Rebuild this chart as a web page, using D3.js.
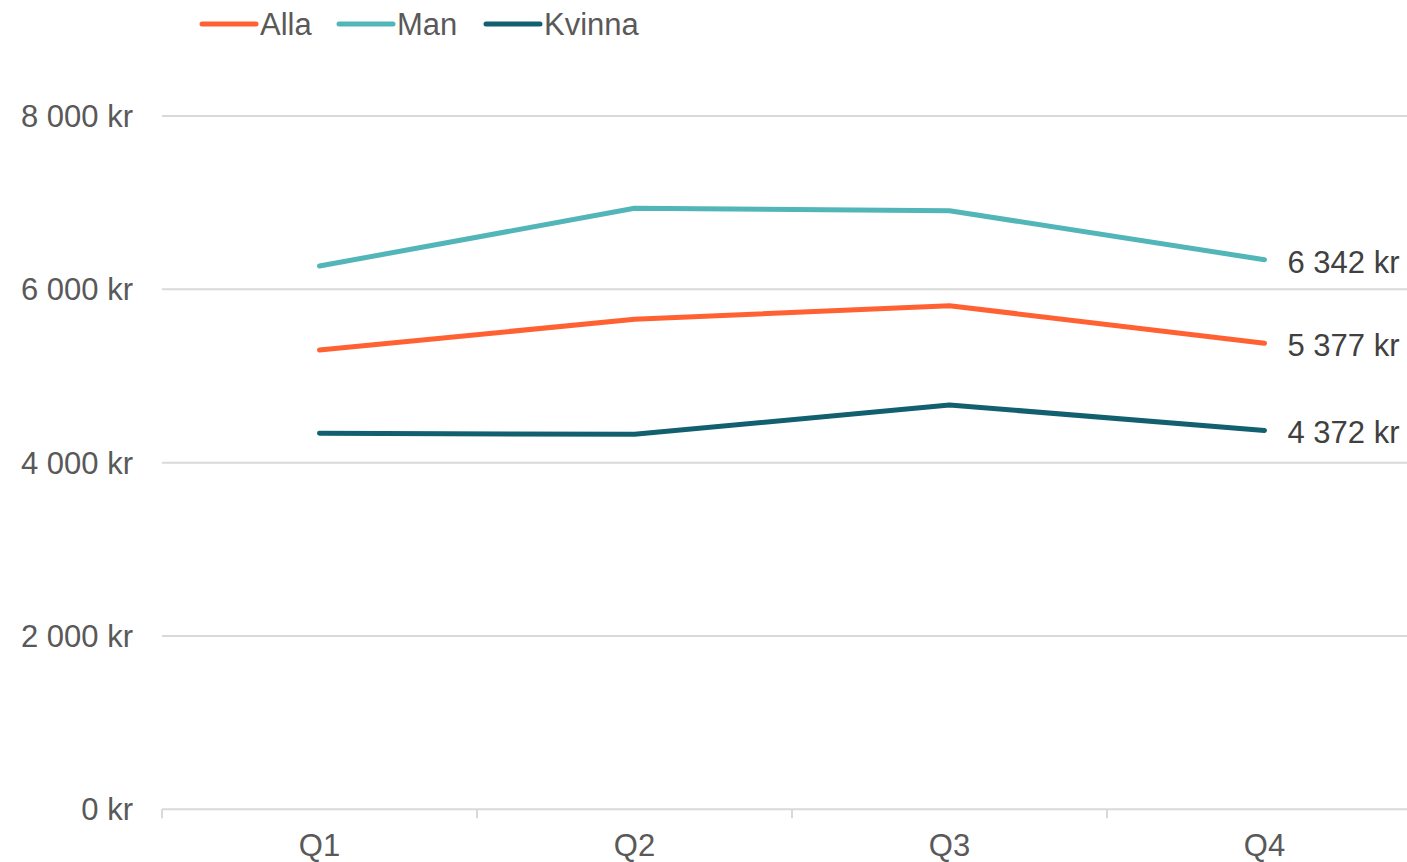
<!DOCTYPE html>
<html><head><meta charset="utf-8">
<script src="https://cdn.jsdelivr.net/npm/d3@7"></script>
<style>body{margin:0;background:#fff}svg{display:block}text{font-family:"Liberation Sans",Arial,sans-serif}</style>
</head><body><svg id="c" width="1407" height="862"></svg>
<script>
const categories = ["Q1","Q2","Q3","Q4"];
const seriesNames = ["Alla","Man","Kvinna"];
const alla = [5300, 5654, 5811, 5377];
const man = [6269, 6935, 6907, 6342];
const kvinna = [4338, 4327, 4665, 4372];
const yTicks = [0, 2000, 4000, 6000, 8000];
const colors = ["#FF6133", "#52B6B9", "#12606F"];

const series = [alla, man, kvinna];
const svg = d3.select("#c");
const fmt = v => d3.format(",")(v).replace(/,/g, " ") + " kr";
const x = d3.scaleBand().domain(categories).range([162, 1422]);
const y = d3.scaleLinear().domain([0, 8000]).range([809.3, 116]);
const fs = 31, tc = "#595959";

// gridlines
svg.append("g").selectAll("line").data(yTicks.filter(d => d > 0)).join("line")
  .attr("x1", 162).attr("x2", 1422).attr("y1", d => y(d)).attr("y2", d => y(d))
  .attr("stroke", "#D9D9D9").attr("stroke-width", 2);

// y labels
svg.append("g").selectAll("text").data(yTicks).join("text")
  .attr("x", 133).attr("y", d => y(d)).attr("dy", "0.35em").attr("text-anchor", "end")
  .attr("font-size", fs).attr("fill", tc).text(fmt);

// x axis
svg.append("line").attr("x1", 162).attr("x2", 1422).attr("y1", y(0)).attr("y2", y(0))
  .attr("stroke", "#D9D9D9").attr("stroke-width", 2);
const bounds = categories.map(c => x(c)).concat([x.range()[1]]);
svg.append("g").selectAll("line").data(bounds).join("line")
  .attr("x1", d => d).attr("x2", d => d).attr("y1", y(0)).attr("y2", y(0) + 9)
  .attr("stroke", "#D9D9D9").attr("stroke-width", 2);
svg.append("g").selectAll("text").data(categories).join("text")
  .attr("x", d => x(d) + x.bandwidth() / 2).attr("y", 845).attr("dy", "0.35em")
  .attr("text-anchor", "middle").attr("font-size", fs).attr("fill", tc).text(d => d);

// lines
const line = d3.line().x((d, i) => x(categories[i]) + x.bandwidth() / 2).y(d => y(d));
series.forEach((s, k) => {
  svg.append("path").datum(s).attr("d", line).attr("fill", "none")
    .attr("stroke", colors[k]).attr("stroke-width", 5)
    .attr("stroke-linecap", "round").attr("stroke-linejoin", "round");
  const last = s[s.length - 1];
  svg.append("text").attr("x", x(categories[3]) + x.bandwidth() / 2 + 23).attr("y", y(last) + 2)
    .attr("dy", "0.35em").attr("font-size", fs).attr("fill", "#404040").text(fmt(last));
});

// legend
const legX = [202, 339, 486];
seriesNames.forEach((n, k) => {
  const g = svg.append("g");
  g.append("line").attr("x1", legX[k]).attr("x2", legX[k] + 54).attr("y1", 24).attr("y2", 24)
    .attr("stroke", colors[k]).attr("stroke-width", 5).attr("stroke-linecap", "round");
  g.append("text").attr("x", legX[k] + 58).attr("y", 24).attr("dy", "0.35em")
    .attr("font-size", fs).attr("fill", tc).text(n);
});
</script></body></html>
